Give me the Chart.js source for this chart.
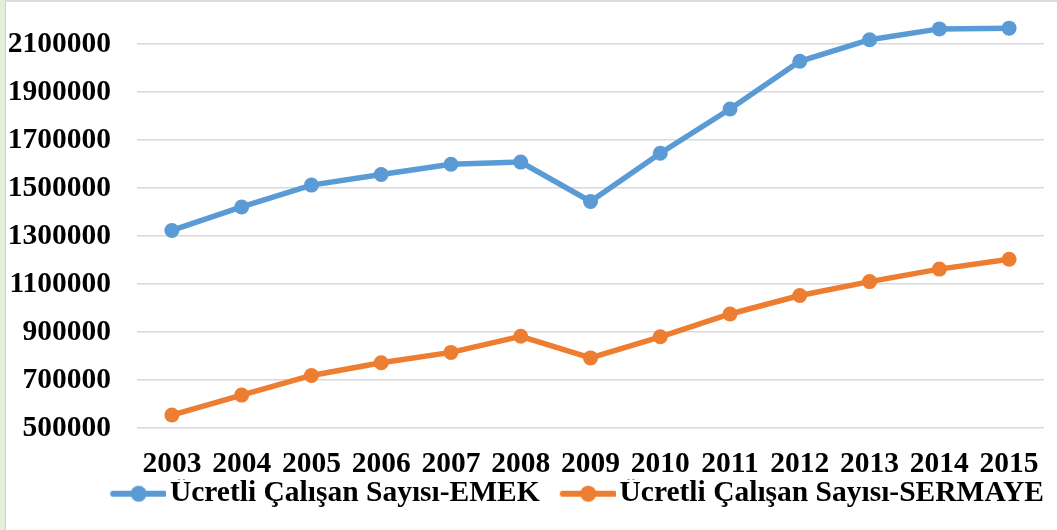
<!DOCTYPE html>
<html>
<head>
<meta charset="utf-8">
<script src="https://cdn.jsdelivr.net/npm/chart.js"></script>
<style>
    body { margin: 0; background: #fff; }
    #kutu { position: relative; width: 1057px; height: 530px; overflow: hidden; background: #e4efd9; }
    #ic { position: absolute; left: 5px; top: 0; right: 0; bottom: 0; background: #fff;
          border-left: 1px solid #d0d0d0; border-top: 2px solid #dcdcdc; }
    #grafik { position: absolute; left: 0; top: 0; }
</style>
</head>
<body>
<div id="kutu">
    <div id="ic"></div>
    <canvas id="grafik" width="1057" height="530"></canvas>
</div>
<script>
const yillar = ['2003', '2004', '2005', '2006', '2007', '2008', '2009', '2010', '2011', '2012', '2013', '2014', '2015'];
const emek = [1323000, 1421000, 1512000, 1556000, 1599000, 1608000, 1444000, 1645000, 1829000, 2028000, 2118000, 2163000, 2166000];
const sermaye = [554000, 637000, 719000, 772000, 815000, 882000, 792000, 880000, 975000, 1052000, 1110000, 1162000, 1203000];
const yTikler = [500000, 700000, 900000, 1100000, 1300000, 1500000, 1700000, 1900000, 2100000];

const MAVI = '#5b9bd5';
const TURUNCU = '#ed7d31';
const yazi = { family: '"Liberation Serif", "Times New Roman", serif', size: 29.5, weight: 'bold' };

// legend icon: short line with a dot, drawn at the right side of the image
// so the text sits close to it and the items get a wider gap between them
function legendIkon(renk) {
    const c = document.createElement('canvas');
    c.width = 87;
    c.height = 18;
    const g = c.getContext('2d');
    g.strokeStyle = renk;
    g.lineWidth = 6;
    g.lineCap = 'round';
    g.beginPath();
    g.moveTo(34, 9);
    g.lineTo(85, 9);
    g.stroke();
    g.fillStyle = renk;
    g.beginPath();
    g.arc(59.5, 9, 8, 0, Math.PI * 2);
    g.fill();
    return c;
}

const ctx = document.getElementById('grafik');
new Chart(ctx, {
    type: 'line',
    data: {
        labels: yillar,
        datasets: [{
            label: 'Ücretli Çalışan Sayısı-EMEK',
            data: emek,
            borderColor: MAVI,
            backgroundColor: MAVI,
            borderWidth: 5.5,
            pointRadius: 7.5,
            pointBorderWidth: 0,
            pointStyle: 'circle',
            tension: 0
        }, {
            label: 'Ücretli Çalışan Sayısı-SERMAYE',
            data: sermaye,
            borderColor: TURUNCU,
            backgroundColor: TURUNCU,
            borderWidth: 5.5,
            pointRadius: 7.5,
            pointBorderWidth: 0,
            pointStyle: 'circle',
            tension: 0
        }]
    },
    options: {
        responsive: false,
        animation: false,
        layout: { padding: { left: 0, right: 13, top: 20, bottom: 11.5 } },
        scales: {
            x: {
                offset: true,
                grid: { display: false },
                border: { display: false },
                ticks: { color: '#000', font: yazi, padding: 11, maxRotation: 0, autoSkip: false },
                afterFit: function(scale) { scale.height = 51; }
            },
            y: {
                min: 500000,
                max: 2200000,
                grid: { color: '#d9d9d9', lineWidth: 1.5, drawTicks: false },
                border: { display: false },
                ticks: {
                    color: '#000',
                    font: yazi,
                    padding: 26,
                    callback: function(v) { return String(v); }
                },
                afterBuildTicks: function(scale) {
                    scale.ticks = yTikler.map(v => ({ value: v }));
                },
                afterFit: function(scale) {
                    scale.width = 137;
                    scale.paddingTop = 0;
                    scale.paddingBottom = 0;
                }
            }
        },
        plugins: {
            tooltip: { enabled: false },
            legend: {
                position: 'bottom',
                align: 'end',
                labels: {
                    color: '#000',
                    font: yazi,
                    usePointStyle: true,
                    pointStyleWidth: 65,
                    padding: 0,
                    generateLabels: function(chart) {
                        return chart.data.datasets.map((ds, i) => ({
                            text: ds.label,
                            fillStyle: ds.borderColor,
                            strokeStyle: ds.borderColor,
                            lineWidth: 0,
                            pointStyle: legendIkon(ds.borderColor),
                            datasetIndex: i,
                            hidden: false
                        }));
                    }
                }
            }
        }
    }
});
</script>
</body>
</html>
